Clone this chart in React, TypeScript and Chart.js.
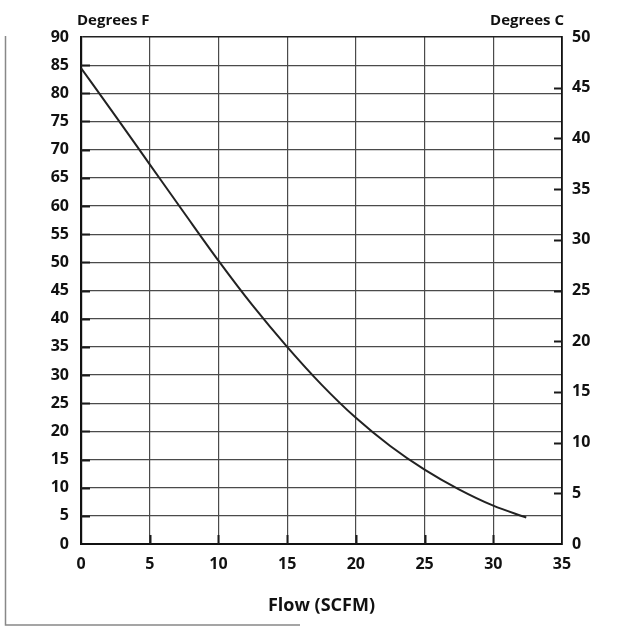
import React, { useEffect, useRef } from "react";
import { Chart, registerables } from "chart.js";

Chart.register(...registerables);

// Flow (SCFM) vs Degrees F
const flowScfm = [0, 2.5, 5, 7.5, 10, 12.5, 15, 17.5, 20, 22.5, 25, 27.5, 30, 32.4];
const degreesF = [84.5, 76.0, 67.4, 58.8, 50.3, 42.3, 35.0, 28.3, 22.4, 17.4, 13.2, 9.7, 6.8, 4.7];

const xTickValues = [0, 5, 10, 15, 20, 25, 30, 35];
const fTickValues = [0, 5, 10, 15, 20, 25, 30, 35, 40, 45, 50, 55, 60, 65, 70, 75, 80, 85, 90];
const cTickValues = [0, 5, 10, 15, 20, 25, 30, 35, 40, 45, 50];

const leftTitle = "Degrees F";
const rightTitle = "Degrees C";
const xTitle = "Flow (SCFM)";

const FONT = '"Open Sans", "DejaVu Sans", sans-serif';

const decorPlugin = {
  id: "decor",
  afterDraw(chart: any) {
    const ctx = chart.ctx as CanvasRenderingContext2D;
    const { left, right, bottom } = chart.chartArea;
    const xs = chart.scales.x;
    const ys = chart.scales.y;
    const y1 = chart.scales.y1;
    ctx.save();
    ctx.strokeStyle = "#1a1a1a";
    ctx.lineWidth = 2;
    ctx.beginPath();
    cTickValues.forEach((v) => {
      if (v > 0 && v < 50) {
        const py = Math.round(y1.getPixelForValue(v)) + 0.5;
        ctx.moveTo(right - 8, py);
        ctx.lineTo(right, py);
      }
    });
    xTickValues.forEach((v) => {
      if (v > 0 && v < 35) {
        const px = Math.round(xs.getPixelForValue(v)) + 0.5;
        ctx.moveTo(px, bottom - 9);
        ctx.lineTo(px, bottom);
      }
    });
    fTickValues.forEach((v) => {
      if (v > 0 && v < 90) {
        const py = Math.round(ys.getPixelForValue(v)) + 0.5;
        ctx.moveTo(left, py);
        ctx.lineTo(left + 9, py);
      }
    });
    ctx.stroke();

    ctx.fillStyle = "#111";
    ctx.font = `bold 15px ${FONT}`;
    ctx.textBaseline = "alphabetic";
    ctx.textAlign = "left";
    ctx.fillText(leftTitle, left - 4, 25);
    ctx.textAlign = "right";
    ctx.fillText(rightTitle, right + 2, 25);

    // outer scan frame
    ctx.strokeStyle = "#888";
    ctx.lineWidth = 1.5;
    ctx.beginPath();
    ctx.moveTo(5.5, 36);
    ctx.lineTo(5.5, 625);
    ctx.lineTo(300, 625);
    ctx.stroke();
    ctx.restore();
  },
};

export default function App() {
  const ref = useRef<HTMLCanvasElement | null>(null);

  useEffect(() => {
    if (!ref.current) return;
    const tickFont = { family: FONT, size: 16, weight: "bold" as const };
    const chart = new Chart(ref.current, {
      type: "line",
      data: {
        datasets: [
          {
            data: flowScfm.map((x, i) => ({ x, y: degreesF[i] })),
            borderColor: "#222",
            borderWidth: 2,
            pointRadius: 0,
            fill: false,
            cubicInterpolationMode: "monotone",
            yAxisID: "y",
          },
        ],
      },
      options: {
        animation: false,
        responsive: false,
        maintainAspectRatio: false,
        layout: { padding: { top: 37, left: 0, right: 0, bottom: 0 } },
        plugins: { legend: { display: false }, tooltip: { enabled: false } },
        scales: {
          x: {
            type: "linear",
            min: 0,
            max: 35,
            afterBuildTicks: (s: any) => {
              s.ticks = xTickValues.map((v) => ({ value: v }));
            },
            ticks: { color: "#111", font: tickFont, padding: 11, maxRotation: 0 },
            grid: { color: "#4a4a4a", lineWidth: 1.2, drawTicks: false },
            border: { color: "#111", width: 2 },
            title: {
              display: true,
              text: xTitle,
              color: "#111",
              font: { family: FONT, size: 18, weight: "bold" },
              padding: { top: 0, bottom: 10 },
            },
            afterFit: (s: any) => {
              s.height = 83;
            },
          },
          y: {
            type: "linear",
            position: "left",
            min: 0,
            max: 90,
            afterBuildTicks: (s: any) => {
              s.ticks = fTickValues.map((v) => ({ value: v }));
            },
            ticks: { color: "#111", font: tickFont, padding: 12 },
            grid: {
              color: (c: any) => (c.tick && c.tick.value === 90 ? "#222" : "#4a4a4a"),
              lineWidth: (c: any) => (c.tick && c.tick.value === 90 ? 1.6 : 1.2),
              drawTicks: false,
            },
            border: { color: "#111", width: 2.2 },
            afterFit: (s: any) => {
              s.width = 81;
            },
          },
          y1: {
            type: "linear",
            position: "right",
            min: 0,
            max: 50,
            afterBuildTicks: (s: any) => {
              s.ticks = cTickValues.map((v) => ({ value: v }));
            },
            ticks: { color: "#111", font: tickFont, padding: 10 },
            grid: { drawOnChartArea: false, drawTicks: false },
            border: { color: "#111", width: 1.8 },
            afterFit: (s: any) => {
              s.width = 75;
            },
          },
        },
      },
      plugins: [decorPlugin],
    } as any);
    return () => chart.destroy();
  }, []);

  return (
    <div style={{ position: "fixed", left: 0, top: 0, width: 637, height: 627, background: "#fff" }}>
      <canvas ref={ref} width={637} height={627} style={{ display: "block", width: 637, height: 627 }} />
    </div>
  );
}
